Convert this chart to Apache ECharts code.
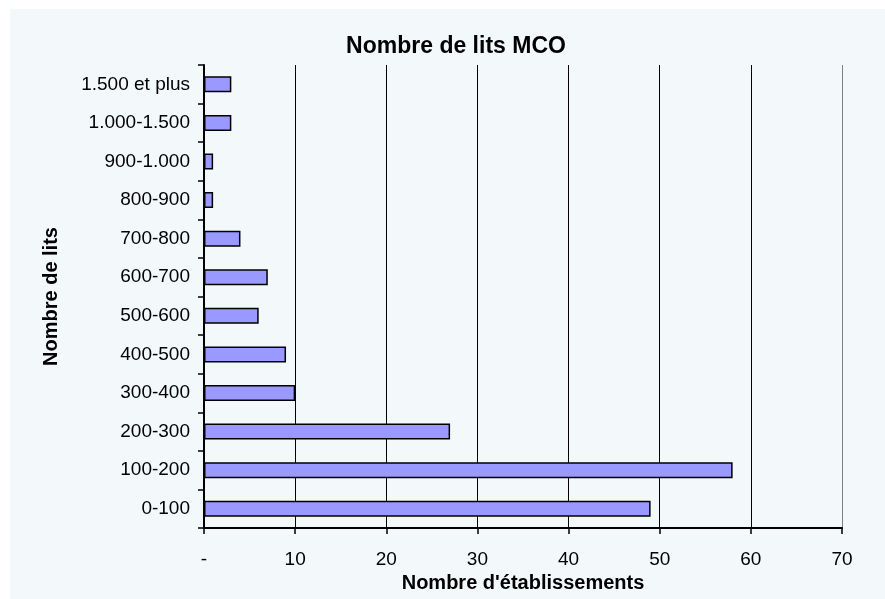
<!DOCTYPE html>
<html>
<head>
<meta charset="utf-8">
<script src="https://cdn.jsdelivr.net/npm/echarts@6/dist/echarts.min.js"></script>
<style>
  html, body { margin: 0; padding: 0; background: #fff; }
  #chart { width: 885px; height: 599px; }
</style>
</head>
<body>
<div id="chart"></div>
<script>
// categories bottom -> top
const categories = ['0-100', '100-200', '200-300', '300-400', '400-500', '500-600',
  '600-700', '700-800', '800-900', '900-1.000', '1.000-1.500', '1.500 et plus'];
const counts = [49, 58, 27, 10, 9, 6, 7, 4, 1, 1, 3, 3];
const xTicks = [0, 10, 20, 30, 40, 50, 60, 70];

const font = '"Liberation Sans", Arial, sans-serif';
const chart = echarts.init(document.getElementById('chart'));

chart.setOption({
  backgroundColor: '#ffffff',
  animation: false,
  graphic: [{
    type: 'rect',
    z: 0,
    shape: { x: 10, y: 9, width: 875, height: 590 },
    style: { fill: '#F3F8FB' }
  }],
  title: {
    text: 'Nombre de lits MCO',
    left: 451,
    top: 30,
    textAlign: 'center',
    textStyle: { fontFamily: font, fontSize: 23, fontWeight: 'bold', color: '#000' }
  },
  grid: {
    left: 204, right: 43, top: 65, bottom: 71,
    show: true,
    borderColor: '#808080',
    borderWidth: 2,
    backgroundColor: 'transparent'
  },
  xAxis: {
    type: 'value',
    min: xTicks[0],
    max: xTicks[xTicks.length - 1],
    interval: 10,
    name: "Nombre d'établissements",
    nameLocation: 'middle',
    nameGap: 42,
    nameTextStyle: { fontFamily: font, fontSize: 20, fontWeight: 'bold', color: '#000' },
    axisLine: { show: true, lineStyle: { color: '#000', width: 2 } },
    axisTick: { show: true, length: 6, lineStyle: { color: '#000', width: 1.5 } },
    axisLabel: {
      margin: 22,
      fontFamily: font, fontSize: 19, color: '#000',
      formatter: v => v === 0 ? '-' : String(v)
    },
    splitLine: {
      show: true,
      lineStyle: {
        color: ['#000', '#000', '#000', '#000', '#000', '#000', '#000', '#808080'],
        width: 1
      }
    }
  },
  yAxis: {
    type: 'category',
    data: categories,
    name: 'Nombre de lits',
    nameLocation: 'middle',
    nameRotate: 90,
    nameGap: 143,
    nameTextStyle: { fontFamily: font, fontSize: 20, fontWeight: 'bold', color: '#000' },
    axisLine: { show: true, lineStyle: { color: '#000', width: 2 } },
    axisTick: { show: true, length: 6, lineStyle: { color: '#000', width: 1.5 } },
    axisLabel: { margin: 14, fontFamily: font, fontSize: 19, color: '#000' },
    splitLine: { show: false }
  },
  series: [{
    type: 'bar',
    data: counts,
    barWidth: 16,
    itemStyle: { color: '#9999FF', borderColor: '#000', borderWidth: 1.5 }
  }]
});
</script>
</body>
</html>
